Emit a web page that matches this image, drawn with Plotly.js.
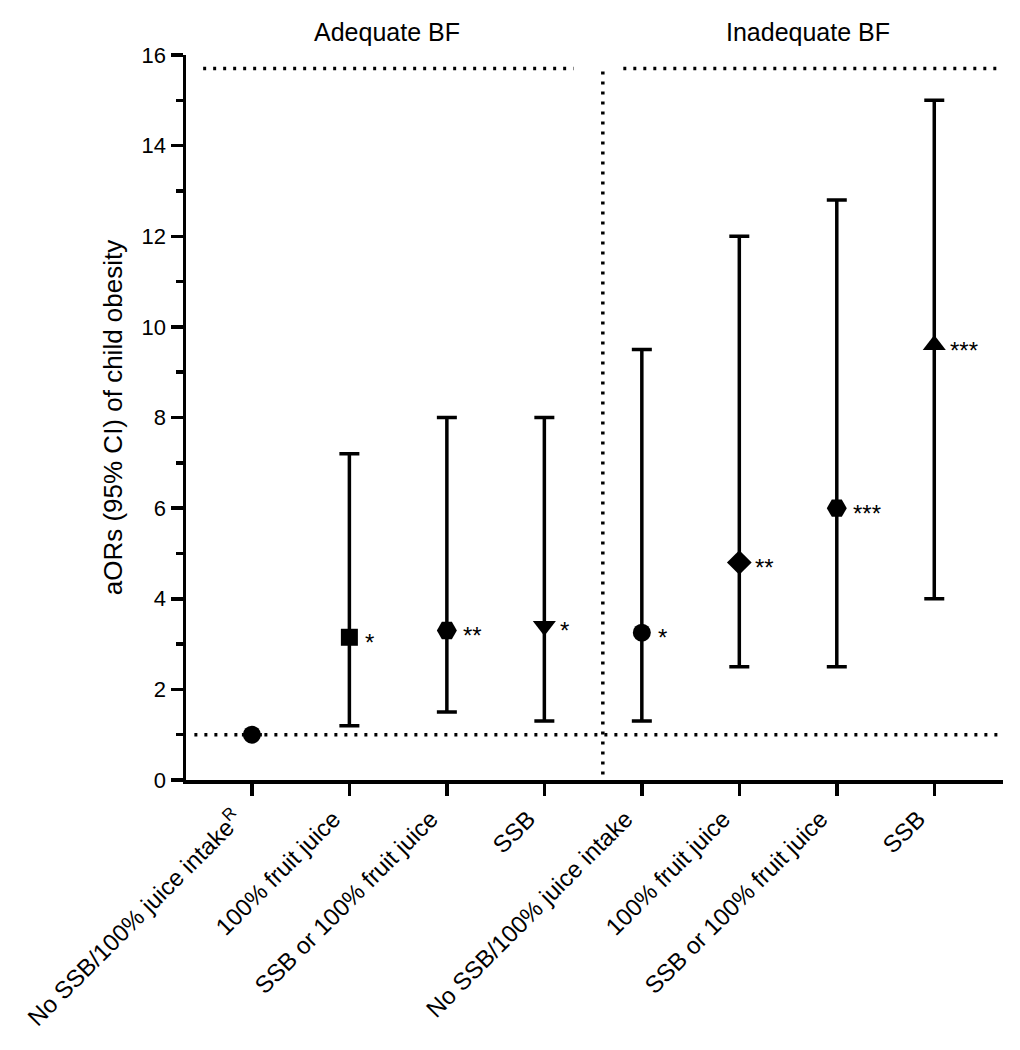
<!DOCTYPE html>
<html>
<head>
<meta charset="utf-8">
<script src="https://cdn.plot.ly/plotly-3.0.1.min.js"></script>
<style>html,body{margin:0;padding:0;background:#fff;}#chart{width:1020px;height:1050px;}</style>
</head>
<body>
<div id="chart"></div>
<script>
// ---- data ----
const categoryLabels = [
  "No SSB/100% juice intake<sup>R</sup>",
  "100% fruit juice",
  "SSB or 100% fruit juice",
  "SSB",
  "No SSB/100% juice intake",
  "100% fruit juice",
  "SSB or 100% fruit juice",
  "SSB"
];
const aOR    = [1.0, 3.15, 3.3, 3.4, 3.25, 4.8, 6.0, 9.6];
const ciLow  = [null, 1.2, 1.5, 1.3, 1.3, 2.5, 2.5, 4.0];
const ciHigh = [null, 7.2, 8.0, 8.0, 9.5, 12.0, 12.8, 15.0];
const significance = ["", "*", "**", "*", "*", "**", "***", "***"];
const groupLabels = ["Adequate BF", "Inadequate BF"];
const groupCenters = [1.39, 5.7];
const referenceOR = 1;
const topLineY = 15.7;
const dividerX = 3.6;

// ---- styles ----
const symbols = ["circle", "square", "hexagon2", "triangle-down", "circle", "diamond", "hexagon2", "triangle-up"];
const markerSizes = [18, 17, 20, 20, 18, 19, 20, 20];
const FONT = "Arial, 'Liberation Sans', sans-serif";
const xs = categoryLabels.map((_, i) => i);
const errPlus  = aOR.map((v, i) => ciHigh[i] == null ? null : ciHigh[i] - v);
const errMinus = aOR.map((v, i) => ciLow[i] == null ? null : v - ciLow[i]);

const trace = {
  type: "scatter",
  mode: "markers",
  x: xs,
  y: aOR,
  marker: { symbol: symbols, size: markerSizes, color: "#000", opacity: 1, line: { width: 0, color: "#000" } },
  error_y: {
    type: "data", symmetric: false,
    array: errPlus, arrayminus: errMinus,
    color: "#000", thickness: 3.5, width: 10
  },
  hoverinfo: "skip",
  showlegend: false,
  cliponaxis: false
};

const dotStyle = { color: "#000", width: 3.5, dash: "3px,7px" };
const xMin = -0.676, xMax = 7.705;
const shapes = [
  { type: "line", xref: "x", yref: "y", x0: -0.59, x1: xMax, y0: referenceOR, y1: referenceOR, line: dotStyle, layer: "below" },
  { type: "line", xref: "x", yref: "y", x0: -0.5, x1: dividerX - 0.30, y0: topLineY, y1: topLineY, line: dotStyle, layer: "below" },
  { type: "line", xref: "x", yref: "y", x0: dividerX + 0.21, x1: xMax, y0: topLineY, y1: topLineY, line: dotStyle, layer: "below" },
  { type: "line", xref: "x", yref: "y", x0: dividerX, x1: dividerX, y0: 0.12, y1: topLineY, line: dotStyle, layer: "below" }
];

const annotations = [];
aOR.forEach((v, i) => {
  if (significance[i]) {
    annotations.push({
      x: i, y: v, xref: "x", yref: "y", text: significance[i], showarrow: false,
      xanchor: "left", yanchor: "middle", xshift: 14, yshift: -5,
      font: { family: FONT, size: 24, color: "#000" }
    });
  }
});
groupLabels.forEach((g, i) => {
  annotations.push({
    x: groupCenters[i], y: 1.032, xref: "x", yref: "paper", text: g, showarrow: false,
    xanchor: "center", yanchor: "middle",
    font: { family: FONT, size: 25, color: "#000" }
  });
});

const layout = {
  width: 1020, height: 1050,
  margin: { l: 186, r: 17, t: 55, b: 270 },
  paper_bgcolor: "#fff", plot_bgcolor: "#fff",
  font: { family: FONT, color: "#000" },
  showlegend: false,
  xaxis: {
    range: [xMin, xMax], showgrid: false, zeroline: false,
    showline: true, linecolor: "#000", linewidth: 3.5,
    tickmode: "array", tickvals: xs, ticktext: categoryLabels,
    ticks: "outside", ticklen: 12, tickwidth: 3.5, tickcolor: "#000",
    tickangle: -45, tickfont: { family: FONT, size: 24, color: "#000" },
    ticklabelshift: -16,
    fixedrange: true
  },
  yaxis: {
    range: [0, 16], showgrid: false, zeroline: false,
    showline: true, linecolor: "#000", linewidth: 3.5,
    tickmode: "linear", tick0: 0, dtick: 2,
    ticks: "outside", ticklen: 12, tickwidth: 3.5, tickcolor: "#000",
    minor: { dtick: 1, ticks: "outside", ticklen: 7, tickwidth: 3.5, tickcolor: "#000", showgrid: false },
    tickfont: { family: FONT, size: 22, color: "#000" },
    title: { text: "aORs (95% CI) of child obesity", font: { family: FONT, size: 26, color: "#000" }, standoff: 12 },
    fixedrange: true
  },
  shapes: shapes,
  annotations: annotations
};

Plotly.newPlot("chart", [trace], layout, { displayModeBar: false, staticPlot: true });
</script>
</body>
</html>
